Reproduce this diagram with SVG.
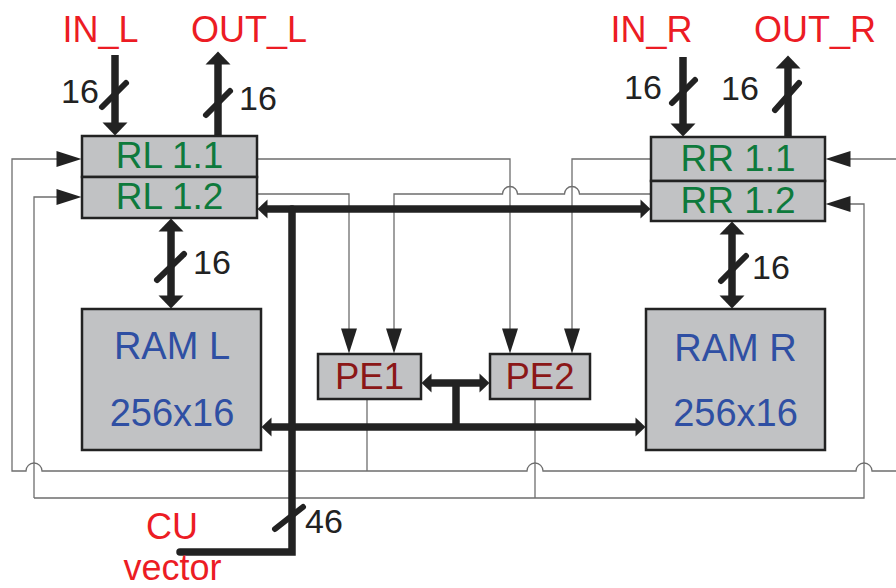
<svg xmlns="http://www.w3.org/2000/svg" width="896" height="588" viewBox="0 0 896 588">
<style>
.blk{fill:#c1c2c4;stroke:#222;stroke-width:2.5}
.thin{fill:none;stroke:#6e6e6e;stroke-width:1.3}
.thick{fill:none;stroke:#222;stroke-width:7.5}
.slash{fill:none;stroke:#222;stroke-width:6;stroke-linecap:round}
.num{font-family:"Liberation Sans",Arial,sans-serif;font-size:34px;fill:#222}
.io{font-family:"Liberation Sans",Arial,sans-serif;font-size:36px;fill:#ec1c24;text-anchor:middle}
.rl{font-family:"Liberation Sans",Arial,sans-serif;font-size:37px;fill:#0e7a3c;text-anchor:middle}
.ram{font-family:"Liberation Sans",Arial,sans-serif;font-size:38px;fill:#2f4fa3;text-anchor:middle}
.pe{font-family:"Liberation Sans",Arial,sans-serif;font-size:36.5px;fill:#8b1717;text-anchor:middle}
</style>
<defs>
<marker id="ab" markerUnits="userSpaceOnUse" markerWidth="14" markerHeight="26" refX="0.5" refY="12.5" orient="auto-start-reverse" overflow="visible"><path d="M0,0 L13,12.5 L0,25 z" fill="#222"/></marker>
<marker id="as" markerUnits="userSpaceOnUse" markerWidth="11" markerHeight="19" refX="0.5" refY="9.5" orient="auto-start-reverse" overflow="visible"><path d="M0,0 L10,9.5 L0,19 z" fill="#222"/></marker>
<marker id="at" markerUnits="userSpaceOnUse" markerWidth="26" markerHeight="16" refX="0.5" refY="8" orient="auto" overflow="visible"><path d="M0,0 L25,8 L0,16 z" fill="#222"/></marker>
</defs>
<g id="connectors">
<path class="thin" d="M257,159 H510 V329" marker-end="url(#at)"/>
<path class="thin" d="M257,194 H349 V329" marker-end="url(#at)"/>
<path class="thin" d="M651,194 H579.5 A7.5,7.5 0 0 0 564.5,194 H517.5 A7.5,7.5 0 0 0 502.5,194 H394 V329" marker-end="url(#at)"/>
<path class="thin" d="M651,159 H572 V329" marker-end="url(#at)"/>
<path class="thin" d="M367,399 V471"/>
<path class="thin" d="M896,471 H872 A8,8 0 0 0 856,471 H543 A8,8 0 0 0 527,471 H42 A8,8 0 0 0 26,471 H12 V159 H57" marker-end="url(#at)"/>
<path class="thin" d="M896,159 H850" marker-end="url(#at)"/>
<path class="thin" d="M535,399 V498"/>
<path class="thin" d="M34,498 V197 H57" marker-end="url(#at)"/>
<path class="thin" d="M34,498 H864 V204 H850" marker-end="url(#at)"/>
<path class="thick" d="M115,55 V123" marker-end="url(#ab)"/>
<path class="thick" d="M218,136 V64" marker-end="url(#ab)"/>
<path class="thick" d="M683,57 V124" marker-end="url(#ab)"/>
<path class="thick" d="M788,137 V68" marker-end="url(#ab)"/>
<path class="thick" d="M171,231 V296" marker-start="url(#ab)" marker-end="url(#ab)"/>
<path class="thick" d="M732,234 V296" marker-start="url(#ab)" marker-end="url(#ab)"/>
<path class="thick" d="M267,209 H641" marker-start="url(#as)" marker-end="url(#as)"/>
<path class="thick" d="M431,383 H480" marker-start="url(#as)" marker-end="url(#as)"/>
<path class="thick" d="M456,383 V427"/>
<path class="thick" d="M271,427 H636" marker-start="url(#as)" marker-end="url(#as)"/>
<path class="thick" d="M180,552 H292 V209" stroke-linecap="round"/>
<line class="slash" x1="102" y1="107" x2="126" y2="83"/>
<line class="slash" x1="206" y1="115" x2="230" y2="91"/>
<line class="slash" x1="672" y1="103" x2="695" y2="80"/>
<line class="slash" x1="775" y1="110" x2="799" y2="83"/>
<line class="slash" x1="157" y1="280" x2="184" y2="254"/>
<line class="slash" x1="721" y1="281" x2="746" y2="256"/>
<line class="slash" x1="275" y1="529" x2="303" y2="507"/>
<text class="num" x="61" y="103">16</text>
<text class="num" x="239" y="110">16</text>
<text class="num" x="624" y="99">16</text>
<text class="num" x="721" y="100">16</text>
<text class="num" x="193" y="274">16</text>
<text class="num" x="752" y="279">16</text>
<text class="num" x="305" y="533">46</text>
</g>
<g id="labels">
<text class="io" x="100.5" y="42">IN_L</text>
<text class="io" x="249" y="42">OUT_L</text>
<text class="io" x="651.5" y="42">IN_R</text>
<text class="io" x="815" y="42">OUT_R</text>
<text class="io" x="172" y="539">CU</text>
<text class="io" x="172.5" y="580">vector</text>
</g>
<g id="RL">
<rect class="blk" x="82" y="136" width="175" height="41"/>
<rect class="blk" x="82" y="177" width="175" height="41"/>
<text class="rl" x="169.5" y="168">RL 1.1</text>
<text class="rl" x="169.5" y="209">RL 1.2</text>
</g>
<g id="RR">
<rect class="blk" x="651" y="137" width="174" height="44"/>
<rect class="blk" x="651" y="181" width="174" height="40"/>
<text class="rl" x="738" y="171">RR 1.1</text>
<text class="rl" x="738" y="213">RR 1.2</text>
</g>
<g id="RAML">
<rect class="blk" x="82" y="309" width="179" height="141"/>
<text class="ram" x="172" y="359">RAM L</text>
<text class="ram" x="172" y="426">256x16</text>
</g>
<g id="RAMR">
<rect class="blk" x="646" y="309" width="179" height="141"/>
<text class="ram" x="735.5" y="361">RAM R</text>
<text class="ram" x="735.5" y="426">256x16</text>
</g>
<g id="PE1">
<rect class="blk" x="318" y="354" width="103" height="45"/>
<text class="pe" x="369.5" y="389">PE1</text>
</g>
<g id="PE2">
<rect class="blk" x="490" y="354" width="100" height="45"/>
<text class="pe" x="540" y="389">PE2</text>
</g>
</svg>
